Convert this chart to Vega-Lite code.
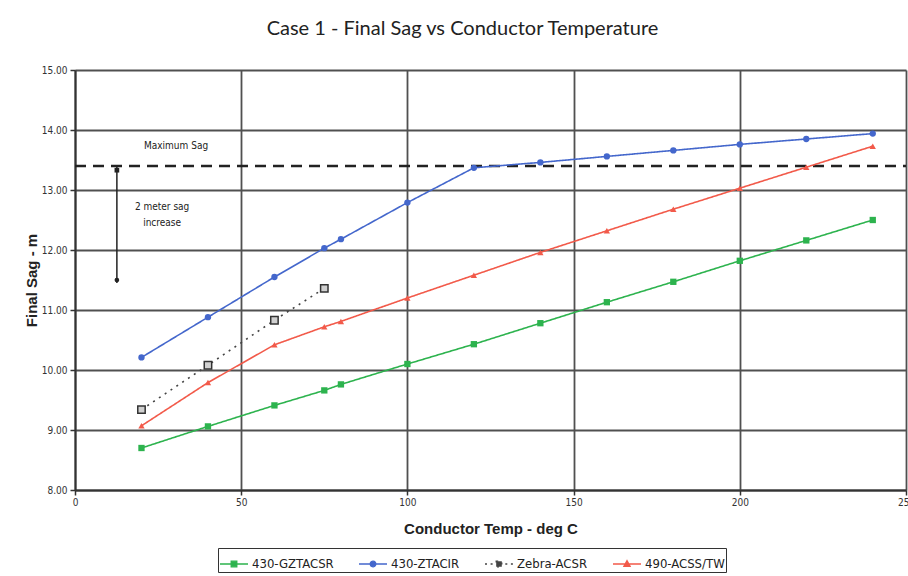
{
  "$schema": "https://vega.github.io/schema/vega-lite/v6.json",
  "width": 831,
  "height": 420,
  "autosize": {"type": "none"},
  "padding": {"left": 75, "top": 70, "right": 2, "bottom": 86},
  "background": "white",
  "title": {
    "text": "Case 1 - Final Sag vs Conductor Temperature",
    "font": "Lato",
    "fontSize": 20,
    "fontWeight": "normal",
    "color": "#222222",
    "anchor": "middle",
    "dx": -28,
    "offset": 26
  },
  "config": {
    "view": {"stroke": null},
    "axis": {
      "gridColor": "#505050",
      "gridWidth": 1.8,
      "gridOpacity": 1,
      "domainColor": "#333333",
      "domainWidth": 2,
      "tickColor": "#333333",
      "tickWidth": 1.5,
      "tickSize": 5,
      "labelFlush": false,
      "labelFont": "Liberation Sans Narrow, DejaVu Sans Condensed, sans-serif",
      "labelFontSize": 10,
      "labelColor": "#333333",
      "titleFont": "Liberation Sans, Arial, sans-serif",
      "titleFontSize": 15,
      "titleFontWeight": "bold",
      "titleColor": "#222222"
    }
  },
  "datasets": {
    "sag": [
      {"series": "430-GZTACSR", "temp": 20, "sag": 8.70},
      {"series": "430-GZTACSR", "temp": 40, "sag": 9.06},
      {"series": "430-GZTACSR", "temp": 60, "sag": 9.41},
      {"series": "430-GZTACSR", "temp": 75, "sag": 9.66},
      {"series": "430-GZTACSR", "temp": 80, "sag": 9.76},
      {"series": "430-GZTACSR", "temp": 100, "sag": 10.10},
      {"series": "430-GZTACSR", "temp": 120, "sag": 10.43},
      {"series": "430-GZTACSR", "temp": 140, "sag": 10.78},
      {"series": "430-GZTACSR", "temp": 160, "sag": 11.13},
      {"series": "430-GZTACSR", "temp": 180, "sag": 11.47},
      {"series": "430-GZTACSR", "temp": 200, "sag": 11.82},
      {"series": "430-GZTACSR", "temp": 220, "sag": 12.16},
      {"series": "430-GZTACSR", "temp": 240, "sag": 12.50},
      {"series": "430-ZTACIR", "temp": 20, "sag": 10.21},
      {"series": "430-ZTACIR", "temp": 40, "sag": 10.88},
      {"series": "430-ZTACIR", "temp": 60, "sag": 11.55},
      {"series": "430-ZTACIR", "temp": 75, "sag": 12.03},
      {"series": "430-ZTACIR", "temp": 80, "sag": 12.18},
      {"series": "430-ZTACIR", "temp": 100, "sag": 12.79},
      {"series": "430-ZTACIR", "temp": 120, "sag": 13.37},
      {"series": "430-ZTACIR", "temp": 140, "sag": 13.46},
      {"series": "430-ZTACIR", "temp": 160, "sag": 13.56},
      {"series": "430-ZTACIR", "temp": 180, "sag": 13.66},
      {"series": "430-ZTACIR", "temp": 200, "sag": 13.76},
      {"series": "430-ZTACIR", "temp": 220, "sag": 13.85},
      {"series": "430-ZTACIR", "temp": 240, "sag": 13.94},
      {"series": "Zebra-ACSR", "temp": 20, "sag": 9.34},
      {"series": "Zebra-ACSR", "temp": 40, "sag": 10.08},
      {"series": "Zebra-ACSR", "temp": 60, "sag": 10.83},
      {"series": "Zebra-ACSR", "temp": 75, "sag": 11.36},
      {"series": "490-ACSS/TW", "temp": 20, "sag": 9.07},
      {"series": "490-ACSS/TW", "temp": 40, "sag": 9.79},
      {"series": "490-ACSS/TW", "temp": 60, "sag": 10.42},
      {"series": "490-ACSS/TW", "temp": 75, "sag": 10.72},
      {"series": "490-ACSS/TW", "temp": 80, "sag": 10.81},
      {"series": "490-ACSS/TW", "temp": 100, "sag": 11.20},
      {"series": "490-ACSS/TW", "temp": 120, "sag": 11.58},
      {"series": "490-ACSS/TW", "temp": 140, "sag": 11.96},
      {"series": "490-ACSS/TW", "temp": 160, "sag": 12.32},
      {"series": "490-ACSS/TW", "temp": 180, "sag": 12.68},
      {"series": "490-ACSS/TW", "temp": 200, "sag": 13.03},
      {"series": "490-ACSS/TW", "temp": 220, "sag": 13.38},
      {"series": "490-ACSS/TW", "temp": 240, "sag": 13.73}
    ],
    "notes": [
      {"temp": 30.4, "sag": 13.73, "label": "Maximum Sag"},
      {"temp": 26.2, "sag": 12.72, "label": "2 meter sag"},
      {"temp": 26.2, "sag": 12.45, "label": "increase"}
    ],
    "arrow": [
      {"temp": 12.6, "sag": 13.4, "sag2": 11.45}
    ],
    "heads": [
      {"temp": 12.6, "sag": 13.33, "dir": "up"},
      {"temp": 12.6, "sag": 11.5, "dir": "down"}
    ],
    "limit": [
      {"temp": 0, "temp2": 250, "sag": 13.4}
    ]
  },
  "layer": [
    {
      "data": {"name": "limit"},
      "mark": {"type": "rule", "color": "#222222", "strokeWidth": 2.5, "strokeDash": [11, 7]},
      "encoding": {
        "x": {"field": "temp", "type": "quantitative", "title": "Conductor Temp - deg C", "scale": {"domain": [0, 250], "nice": false, "zero": false},
          "axis": {"values": [0, 50, 100, 150, 200, 250], "labelPadding": 2, "titlePadding": 14}},
        "x2": {"field": "temp2"},
        "y": {"field": "sag", "type": "quantitative", "title": "Final Sag - m", "scale": {"domain": [8, 15], "nice": false, "zero": false},
          "axis": {"values": [8, 9, 10, 11, 12, 13, 14, 15], "format": ".2f", "labelPadding": 3, "titlePadding": 2}}
      }
    },
    {
      "data": {"name": "sag"},
      "mark": {"type": "line", "strokeWidth": 1.6},
      "encoding": {
        "x": {"field": "temp", "type": "quantitative", "title": "Conductor Temp - deg C",
          "axis": {"values": [0, 50, 100, 150, 200, 250], "labelPadding": 2, "titlePadding": 14}},
        "y": {"field": "sag", "type": "quantitative", "title": "Final Sag - m",
          "axis": {"values": [8, 9, 10, 11, 12, 13, 14, 15], "format": ".2f", "labelPadding": 3, "titlePadding": 2}},
        "color": {
          "field": "series", "type": "nominal",
          "scale": {"domain": ["430-GZTACSR", "430-ZTACIR", "Zebra-ACSR", "490-ACSS/TW"], "range": ["#2db34e", "#4467cc", "#444444", "#f25a4a"]},
          "legend": {
            "orient": "none",
            "legendX": 143,
            "legendY": 478,
            "direction": "horizontal",
            "title": null,
            "strokeColor": "#333333",
            "padding": 1,
            "columnPadding": 22,
            "symbolSize": 784,
            "symbolStrokeWidth": 1.3,
            "labelFont": "Liberation Sans Narrow, DejaVu Sans Condensed, sans-serif",
            "labelFontSize": 13,
            "labelColor": "#222222",
            "labelOffset": 3,
            "encode": {
              "symbols": {
                "update": {
                  "shape": {"signal": "datum.value === '430-GZTACSR' ? 'M-1,0H1M-0.2,-0.2H0.2V0.2H-0.2Z' : datum.value === '430-ZTACIR' ? 'M-1,0H1M0.2,0A0.2,0.2,0,1,1,-0.2,0A0.2,0.2,0,1,1,0.2,0Z' : datum.value === 'Zebra-ACSR' ? 'M-1,0H-0.85M-0.6,0H-0.45M0.45,0H0.6M0.85,0H1M-0.2,-0.2H0.2V0.2H-0.2Z' : 'M-1,0H1M0,-0.24L0.22,0.16H-0.22Z'"},
                  "fill": {"signal": "datum.value === '430-GZTACSR' ? '#2db34e' : datum.value === '430-ZTACIR' ? '#2a55c0' : datum.value === 'Zebra-ACSR' ? '#cccccc' : '#f25a4a'"},
                  "strokeDash": {"value": []}
                }
              }
            }
          }
        },
        "strokeDash": {
          "field": "series", "type": "nominal",
          "scale": {"domain": ["430-GZTACSR", "430-ZTACIR", "Zebra-ACSR", "490-ACSS/TW"], "range": [[1, 0], [1, 0], [2, 5], [1, 0]]},
          "legend": null
        }
      }
    },
    {
      "data": {"name": "sag"},
      "transform": [{"filter": "datum.series !== 'Zebra-ACSR'"}],
      "mark": {"type": "point", "filled": true, "opacity": 1, "size": 40},
      "encoding": {
        "x": {"field": "temp", "type": "quantitative", "title": "Conductor Temp - deg C",
          "axis": {"values": [0, 50, 100, 150, 200, 250], "labelPadding": 2, "titlePadding": 14}},
        "y": {"field": "sag", "type": "quantitative", "title": "Final Sag - m",
          "axis": {"values": [8, 9, 10, 11, 12, 13, 14, 15], "format": ".2f", "labelPadding": 3, "titlePadding": 2}},
        "color": {"field": "series", "type": "nominal", "legend": null},
        "shape": {
          "field": "series", "type": "nominal",
          "scale": {"domain": ["430-GZTACSR", "430-ZTACIR", "Zebra-ACSR", "490-ACSS/TW"], "range": ["square", "circle", "square", "triangle-up"]},
          "legend": null
        }
      }
    },
    {
      "data": {"name": "sag"},
      "transform": [{"filter": "datum.series === 'Zebra-ACSR'"}],
      "mark": {"type": "square", "fill": "#d0d0d0", "stroke": "#333333", "strokeWidth": 1.5, "size": 55, "opacity": 1},
      "encoding": {
        "x": {"field": "temp", "type": "quantitative", "title": "Conductor Temp - deg C",
          "axis": {"values": [0, 50, 100, 150, 200, 250], "labelPadding": 2, "titlePadding": 14}},
        "y": {"field": "sag", "type": "quantitative", "title": "Final Sag - m",
          "axis": {"values": [8, 9, 10, 11, 12, 13, 14, 15], "format": ".2f", "labelPadding": 3, "titlePadding": 2}}
      }
    },
    {
      "data": {"name": "arrow"},
      "mark": {"type": "rule", "color": "#222222", "strokeWidth": 1.5},
      "encoding": {
        "x": {"field": "temp", "type": "quantitative", "title": "Conductor Temp - deg C",
          "axis": {"values": [0, 50, 100, 150, 200, 250], "labelPadding": 2, "titlePadding": 14}},
        "y": {"field": "sag", "type": "quantitative", "title": "Final Sag - m",
          "axis": {"values": [8, 9, 10, 11, 12, 13, 14, 15], "format": ".2f", "labelPadding": 3, "titlePadding": 2}},
        "y2": {"field": "sag2"}
      }
    },
    {
      "data": {"name": "heads"},
      "mark": {"type": "point", "filled": true, "color": "#222222", "size": 22, "opacity": 1},
      "encoding": {
        "x": {"field": "temp", "type": "quantitative", "title": "Conductor Temp - deg C",
          "axis": {"values": [0, 50, 100, 150, 200, 250], "labelPadding": 2, "titlePadding": 14}},
        "y": {"field": "sag", "type": "quantitative", "title": "Final Sag - m",
          "axis": {"values": [8, 9, 10, 11, 12, 13, 14, 15], "format": ".2f", "labelPadding": 3, "titlePadding": 2}},
        "shape": {"field": "dir", "type": "nominal", "scale": {"domain": ["up", "down"], "range": ["triangle-up", "triangle-down"]}, "legend": null}
      }
    },
    {
      "data": {"name": "notes"},
      "mark": {"type": "text", "font": "Liberation Sans Narrow, DejaVu Sans Condensed, sans-serif", "fontSize": 10, "color": "#222222"},
      "encoding": {
        "x": {"field": "temp", "type": "quantitative", "title": "Conductor Temp - deg C",
          "axis": {"values": [0, 50, 100, 150, 200, 250], "labelPadding": 2, "titlePadding": 14}},
        "y": {"field": "sag", "type": "quantitative", "title": "Final Sag - m",
          "axis": {"values": [8, 9, 10, 11, 12, 13, 14, 15], "format": ".2f", "labelPadding": 3, "titlePadding": 2}},
        "text": {"field": "label"}
      }
    }
  ]
}
